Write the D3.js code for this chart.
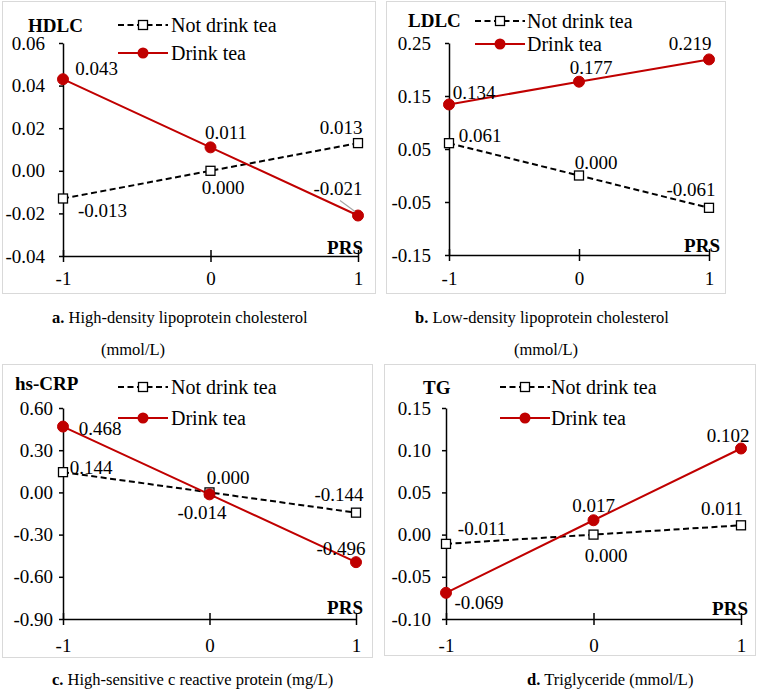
<!DOCTYPE html>
<html>
<head>
<meta charset="utf-8">
<script src="https://cdn.jsdelivr.net/npm/d3@7"></script>
<style>
  html, body { margin: 0; padding: 0; background: #fff; }
  svg { display: block; }
</style>
</head>
<body>
<svg id="chart" width="758" height="689"></svg>
<script>
// ---------- data ----------
const prs = [-1, 0, 1];
const xTickLabels = ["-1", "0", "1"];

const hdlcNot = [-0.013, 0.000, 0.013];
const hdlcTea = [0.043, 0.011, -0.021];
const ldlcNot = [0.061, 0.000, -0.061];
const ldlcTea = [0.134, 0.177, 0.219];
const crpNot  = [0.144, 0.000, -0.144];
const crpTea  = [0.468, -0.014, -0.496];
const tgNot   = [-0.011, 0.000, 0.011];
const tgTea   = [-0.069, 0.017, 0.102];

const hdlcTicks = [-0.04, -0.02, 0.00, 0.02, 0.04, 0.06];
const ldlcTicks = [-0.15, -0.05, 0.05, 0.15, 0.25];
const crpTicks  = [-0.90, -0.60, -0.30, 0.00, 0.30, 0.60];
const tgTicks   = [-0.10, -0.05, 0.00, 0.05, 0.10, 0.15];

const seriesNames = ["Not drink tea", "Drink tea"];
const panelTitles = ["HDLC", "LDLC", "hs-CRP", "TG"];
const captionBold = ["a.", "b.", "c.", "d."];
const captionText = [
  " High-density lipoprotein cholesterol",
  " Low-density lipoprotein cholesterol",
  " High-sensitive c reactive protein (mg/L)",
  " Triglyceride (mmol/L)"
];
const captionSecond = ["(mmol/L)", "(mmol/L)", null, null];

// ---------- layout (positions / styles, not data) ----------
const FONT = "Liberation Serif";
const RED = "#C00000";
const layout = [
  { box:[2,1,373,292], plot:[63,358,43,256], gap:18, title:[28,25], legend:[118,168,171,25,53], prs:[363,247], xlab:278,
    cap:[52,323], cap2:[133,355],
    offNot:[[39.5,11.5],[12.5,17],[-17,-16]], offTea:[[33.5,-11],[15.5,-15],[-20,-27]], leader:[2,[-18,-15],[-3,-4]] },
  { box:[386,1,339,292], plot:[449,709,43,255], gap:18, title:[408,20], legend:[475,525,527,21,44], prs:[720,245], xlab:278,
    cap:[415,323], cap2:[546,355],
    offNot:[[31,-8],[17,-13.5],[-18,-18]], offTea:[[25,-12.5],[12,-14],[-19,-16]] },
  { box:[2,364,370,293], plot:[63,356,408,619], gap:10, title:[15,383], legend:[118,168,171,387,418], prs:[363,607], xlab:645,
    cap:[52,685], cap2:null,
    offNot:[[28,-5],[18.5,-15],[-17,-18.7]], offTea:[[37,1.5],[-7.5,17.5],[-15,-14]] },
  { box:[384,364,371,291], plot:[446,741,408,619], gap:15, title:[423,387], legend:[500,550,551,387,418], prs:[748,608], xlab:645,
    cap:[527,685], cap2:null,
    offNot:[[36,-16],[12.5,21],[-19,-17]], offTea:[[33,10],[0,-15],[-13,-13.5]] }
];

const panels = [
  { not: hdlcNot, tea: hdlcTea, ticks: hdlcTicks },
  { not: ldlcNot, tea: ldlcTea, ticks: ldlcTicks },
  { not: crpNot,  tea: crpTea,  ticks: crpTicks },
  { not: tgNot,   tea: tgTea,   ticks: tgTicks }
];

const loc = d3.formatLocale({ decimal: ".", thousands: ",", grouping: [3], currency: ["", ""], minus: "-" });
const f2 = loc.format(".2f");
const f3 = loc.format(".3f");

const svg = d3.select("#chart").attr("font-family", FONT);
svg.append("rect").attr("width", 758).attr("height", 689).attr("fill", "#fff");

panels.forEach((p, i) => {
  const L = layout[i];
  const g = svg.append("g").attr("font-family", FONT);

  // panel border
  g.append("rect")
    .attr("x", L.box[0] + 0.5).attr("y", L.box[1] + 0.5)
    .attr("width", L.box[2]).attr("height", L.box[3])
    .attr("fill", "none").attr("stroke", "#D9D9D9").attr("stroke-width", 1);

  const x = d3.scaleLinear().domain([prs[0], prs[prs.length - 1]]).range([L.plot[0], L.plot[1]]);
  const y = d3.scaleLinear().domain([d3.min(p.ticks), d3.max(p.ticks)]).range([L.plot[3], L.plot[2]]);

  // y axis
  const yAx = g.append("g").attr("transform", `translate(${L.plot[0]},0)`)
    .call(d3.axisLeft(y).tickValues(p.ticks).tickFormat(f2).tickSizeInner(4).tickSizeOuter(0).tickPadding(L.gap - 4));
  yAx.attr("font-family", FONT);
  yAx.select(".domain").attr("stroke", "#000").attr("stroke-width", 1.5);
  yAx.selectAll(".tick line").attr("stroke", "#000").attr("stroke-width", 1.5);
  yAx.selectAll(".tick text").attr("font-size", 19).attr("font-family", FONT).attr("fill", "#000");

  // x axis
  const xAx = g.append("g").attr("transform", `translate(0,${L.plot[3]})`)
    .call(d3.axisBottom(x).tickValues(prs).tickFormat((d, k) => xTickLabels[k]).tickSizeOuter(0).tickSizeInner(6).tickPadding(0));
  xAx.attr("font-family", FONT);
  xAx.select(".domain").attr("stroke", "#000").attr("stroke-width", 1.5);
  xAx.selectAll(".tick line").attr("stroke", "#000").attr("stroke-width", 1.5).attr("y1", -6).attr("y2", 6);
  xAx.selectAll(".tick text").attr("font-size", 19).attr("font-family", FONT).attr("fill", "#000")
    .attr("y", L.xlab - L.plot[3]).attr("dy", "0.35em");

  // title and PRS
  g.append("text").attr("x", L.title[0]).attr("y", L.title[1]).attr("dy", "0.35em")
    .attr("font-size", 19).attr("font-weight", "bold").attr("font-family", FONT).text(panelTitles[i]);
  g.append("text").attr("x", L.prs[0]).attr("y", L.prs[1]).attr("dy", "0.35em").attr("text-anchor", "end")
    .attr("font-size", 19).attr("font-weight", "bold").attr("font-family", FONT).text("PRS");

  const line = d3.line().x((d, k) => x(prs[k])).y(d => y(d));

  // Not drink tea series
  g.append("path").datum(p.not).attr("d", line)
    .attr("fill", "none").attr("stroke", "#000").attr("stroke-width", 2).attr("stroke-dasharray", "6,3.5");
  // Drink tea series
  g.append("path").datum(p.tea).attr("d", line)
    .attr("fill", "none").attr("stroke", RED).attr("stroke-width", 2);

  g.selectAll(".sq").data(p.not).enter().append("rect")
    .attr("x", (d, k) => x(prs[k]) - 4.5).attr("y", d => y(d) - 4.5)
    .attr("width", 9).attr("height", 9)
    .attr("fill", "#fff").attr("stroke", "#000").attr("stroke-width", 1.3);
  g.selectAll(".ci").data(p.tea).enter().append("circle")
    .attr("cx", (d, k) => x(prs[k])).attr("cy", d => y(d)).attr("r", 5.5)
    .attr("fill", RED).attr("stroke", RED).attr("stroke-width", 1);

  // leader line
  if (L.leader) {
    const k = L.leader[0];
    const px = x(prs[k]), py = y(p.tea[k]);
    g.append("line")
      .attr("x1", px + L.leader[1][0]).attr("y1", py + L.leader[1][1])
      .attr("x2", px + L.leader[2][0]).attr("y2", py + L.leader[2][1])
      .attr("stroke", "#A6A6A6").attr("stroke-width", 1.2);
  }

  // data labels
  const lab = (vals, offs) => {
    vals.forEach((v, k) => {
      g.append("text")
        .attr("x", x(prs[k]) + offs[k][0]).attr("y", y(v) + offs[k][1]).attr("dy", "0.35em")
        .attr("text-anchor", "middle").attr("font-size", 19).attr("font-family", FONT).attr("fill", "#000")
        .text(f3(v));
    });
  };
  lab(p.not, L.offNot);
  lab(p.tea, L.offTea);

  // legend
  const [lx0, lx1, tx, r1, r2] = L.legend;
  const lm = (lx0 + lx1) / 2;
  g.append("line").attr("x1", lx0).attr("x2", lx1).attr("y1", r1).attr("y2", r1)
    .attr("stroke", "#000").attr("stroke-width", 2).attr("stroke-dasharray", "6,3.5");
  g.append("rect").attr("x", lm - 4.5).attr("y", r1 - 4.5).attr("width", 9).attr("height", 9)
    .attr("fill", "#fff").attr("stroke", "#000").attr("stroke-width", 1.3);
  g.append("text").attr("x", tx).attr("y", r1).attr("dy", "0.35em").attr("font-size", 20).attr("font-family", FONT).text(seriesNames[0]);
  g.append("line").attr("x1", lx0).attr("x2", lx1).attr("y1", r2).attr("y2", r2)
    .attr("stroke", RED).attr("stroke-width", 2);
  g.append("circle").attr("cx", lm).attr("cy", r2).attr("r", 5.5).attr("fill", RED);
  g.append("text").attr("x", tx).attr("y", r2).attr("dy", "0.35em").attr("font-size", 20).attr("font-family", FONT).text(seriesNames[1]);

  // captions
  const cap = svg.append("text").attr("x", L.cap[0]).attr("y", L.cap[1]).attr("font-size", 16.5)
    .attr("font-family", FONT).attr("fill", "#000");
  cap.append("tspan").attr("font-weight", "bold").text(captionBold[i]);
  cap.append("tspan").text(captionText[i]);
  if (captionSecond[i]) {
    svg.append("text").attr("x", L.cap2[0]).attr("y", L.cap2[1]).attr("text-anchor", "middle")
      .attr("font-size", 16.5).attr("font-family", FONT).attr("fill", "#000").text(captionSecond[i]);
  }
});
</script>
</body>
</html>
